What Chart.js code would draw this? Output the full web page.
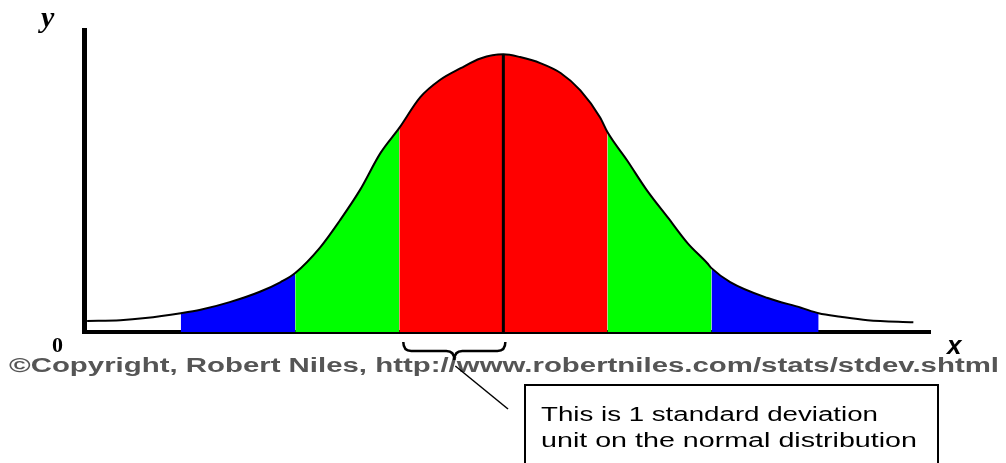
<!DOCTYPE html>
<html>
<head>
<meta charset="utf-8">
<script src="https://cdn.jsdelivr.net/npm/chart.js@4/dist/chart.umd.min.js"></script>
<style>
  html, body { margin: 0; padding: 0; background: #fff; }
  #wrap { width: 1006px; height: 463px; position: relative; }
</style>
</head>
<body>
<div id="wrap"><canvas id="chart"></canvas></div>
<script>
// Curve: x in standard deviations, y as density
const curveX = [-4.0, -3.68, -3.44, -3.1, -2.91, -2.63, -2.34, -2.14, -2.0, -1.76, -1.57, -1.38, -1.18,
                -1.0, -0.8, -0.61, -0.41, -0.22, 0, 0.16, 0.36, 0.55, 0.74, 0.93, 1.0, 1.19, 1.38,
                1.58, 1.77, 1.96, 2.0, 2.18, 2.54, 2.86, 3.03, 3.24, 3.5, 3.94];
const curveY = [0.016, 0.017, 0.020, 0.027, 0.032, 0.043, 0.058, 0.072, 0.085, 0.122, 0.161, 0.204, 0.258,
                0.294, 0.338, 0.363, 0.380, 0.394, 0.400, 0.396, 0.387, 0.373, 0.348, 0.309, 0.288, 0.247, 0.204,
                0.165, 0.128, 0.099, 0.092, 0.072, 0.049, 0.035, 0.027, 0.022, 0.017, 0.014];

// shaded bands: start, end, colour
const bandStart = [-3.1, -2.0, -1.0, 0, 1.0, 2.0];
const bandEnd   = [-2.0, -1.0,  0,   1.0, 2.0, 3.03];
const bandColor = ['#0000ff', '#00ff00', '#ff0000', '#ff0000', '#00ff00', '#0000ff'];

const points = curveX.map((x, i) => ({ x: x, y: curveY[i] }));

const bandSets = bandStart.map((a, i) => ({
    data: points.filter(p => p.x >= a && p.x <= bandEnd[i]),
    backgroundColor: bandColor[i],
    borderWidth: 0,
    pointRadius: 0,
    fill: 'origin',
    cubicInterpolationMode: 'monotone'
}));

// draws text stretched sideways to a given width
function stretchText(ctx, text, x, y, width) {
    const w = ctx.measureText(text).width;
    ctx.save();
    ctx.translate(x, y);
    ctx.scale(width / w, 1);
    ctx.fillText(text, 0, 0);
    ctx.restore();
}

const annotations = {
    id: 'annotations',
    afterDraw(chart) {
        const ctx = chart.ctx;
        const xs = chart.scales.x;
        ctx.save();
        ctx.fillStyle = '#000';
        ctx.textBaseline = 'alphabetic';

        // axis letters
        ctx.font = 'bold italic 30px "Liberation Serif"';
        ctx.fillText('y', 41, 27);
        ctx.font = 'bold 22px "Liberation Serif"';
        ctx.fillText('0', 52, 352);
        ctx.font = 'bold italic 26px "Liberation Sans"';
        ctx.fillText('x', 947, 354);

        // copyright line, stretched like the original
        ctx.font = 'bold 20px "Liberation Sans"';
        ctx.fillStyle = '#555';
        stretchText(ctx, '\u00A9Copyright, Robert Niles, http://www.robertniles.com/stats/stdev.shtml', 9, 372, 990);

        // brace under one standard deviation
        const l = xs.getPixelForValue(-1) + 4;
        const r = xs.getPixelForValue(0) + 2;
        const m = (l + r) / 2;
        ctx.strokeStyle = '#000';
        ctx.lineWidth = 2.5;
        ctx.beginPath();
        ctx.moveTo(l, 342);
        ctx.quadraticCurveTo(l, 351, l + 8, 351);
        ctx.lineTo(m - 8, 351);
        ctx.quadraticCurveTo(m, 351, m, 360);
        ctx.quadraticCurveTo(m, 351, m + 8, 351);
        ctx.lineTo(r - 8, 351);
        ctx.quadraticCurveTo(r, 351, r, 342);
        ctx.stroke();

        // pointer line
        ctx.lineWidth = 1.5;
        ctx.beginPath();
        ctx.moveTo(m + 1, 366);
        ctx.lineTo(508, 409);
        ctx.stroke();

        // callout box
        ctx.lineWidth = 2;
        ctx.strokeRect(525, 385, 413, 90);
        ctx.fillStyle = '#000';
        ctx.font = '20px "Liberation Sans"';
        stretchText(ctx, 'This is 1 standard deviation', 541, 421, 337);
        stretchText(ctx, 'unit on the normal distribution', 541, 447, 376);
        ctx.restore();
    }
};

new Chart(document.getElementById('chart'), {
    type: 'line',
    data: {
        datasets: [
            {
                data: points,
                borderColor: '#000',
                borderWidth: 2,
                pointRadius: 0,
                fill: false,
                cubicInterpolationMode: 'monotone'
            },
            {
                data: [{ x: 0, y: 0 }, { x: 0, y: 0.4 }],
                borderColor: '#000',
                borderWidth: 3,
                pointRadius: 0,
                fill: false
            },
            ...bandSets
        ]
    },
    options: {
        responsive: true,
        maintainAspectRatio: false,
        animation: false,
        events: [],
        layout: { padding: { left: 84, top: 30, right: 76, bottom: 131 } },
        plugins: { legend: { display: false }, tooltip: { enabled: false } },
        scales: {
            x: {
                type: 'linear',
                min: -4.03,
                max: 4.1,
                grid: { display: false, drawTicks: false },
                ticks: { display: false },
                border: { display: true, color: '#000', width: 4 }
            },
            y: {
                min: 0,
                max: 0.435,
                grid: { display: false, drawTicks: false },
                ticks: { display: false },
                border: { display: true, color: '#000', width: 5 }
            }
        }
    },
    plugins: [annotations]
});
</script>
</body>
</html>
